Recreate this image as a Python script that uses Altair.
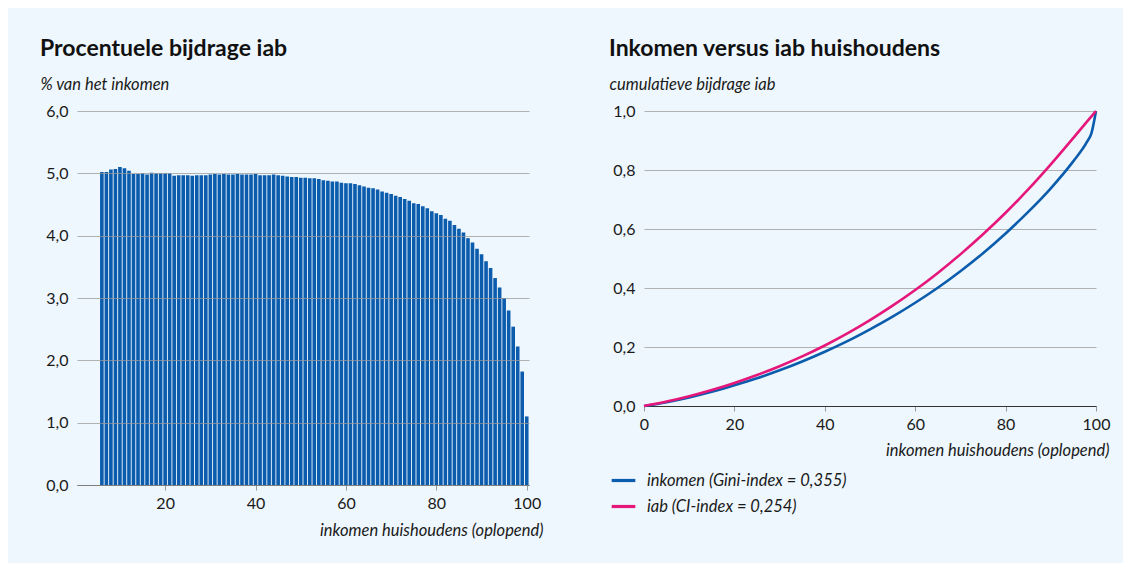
import altair as alt
import pandas as pd

# ---------------- data ----------------
percentiel = list(range(6, 101))
bijdrage = [
    5.02, 5.02, 5.06, 5.07, 5.10, 5.08, 5.04, 4.99, 4.99, 5.00,   # 6-15
    4.98, 5.01, 5.00, 5.00, 5.00, 5.00, 4.96, 4.97, 4.97, 4.97,   # 16-25
    4.96, 4.97, 4.97, 4.97, 4.98, 4.99, 4.98, 4.99, 4.98, 4.98,   # 26-35
    4.99, 4.98, 4.98, 4.98, 4.99, 4.97, 4.97, 4.97, 4.98, 4.97,   # 36-45
    4.96, 4.95, 4.94, 4.94, 4.93, 4.93, 4.92, 4.92, 4.91, 4.89,   # 46-55
    4.88, 4.87, 4.87, 4.85, 4.84, 4.84, 4.83, 4.81, 4.79, 4.77,   # 56-65
    4.76, 4.74, 4.71, 4.69, 4.67, 4.64, 4.62, 4.59, 4.56, 4.52,   # 66-75
    4.51, 4.47, 4.44, 4.39, 4.36, 4.33, 4.27, 4.24, 4.17, 4.11,   # 76-85
    4.05, 3.96, 3.89, 3.79, 3.70, 3.59, 3.48, 3.32, 3.17, 3.00,   # 86-95
    2.80, 2.54, 2.22, 1.82, 1.10,                                 # 96-100
]

curve_x = [0, 5, 10, 15, 20, 25, 30, 35, 40, 45, 50, 55, 60, 65, 70, 75, 80, 85, 90, 95, 98, 99, 100]
inkomen = [0, 0.013, 0.029, 0.048, 0.070, 0.094, 0.121, 0.151, 0.184, 0.220, 0.260, 0.303,
           0.350, 0.401, 0.457, 0.518, 0.585, 0.658, 0.738, 0.830, 0.895, 0.925, 1.0]
iab = [0, 0.015, 0.033, 0.054, 0.078, 0.105, 0.135, 0.168, 0.205, 0.246, 0.291, 0.340,
       0.393, 0.451, 0.514, 0.582, 0.655, 0.734, 0.819, 0.909, 0.964, 0.982, 1.0]

lbl_inkomen = "inkomen (Gini-index = 0,355)"
lbl_iab = "iab (CI-index = 0,254)"

# ---------------- style ----------------
BG = "#eef7fd"
BLUE = "#0b5cad"
PINK = "#e5177b"
FONT = "Lato"
TXT = "#1a1a1a"
GRID = "#9a9a9a"
LBL = 16
TTL = 16.5

comma_fmt = "replace(format(datum.value, '.1f'), '.', ',')"

df_bar = pd.DataFrame({"p": percentiel, "v": bijdrage})

left = (
    alt.Chart(df_bar)
    .transform_calculate(x0="datum.p - 0.4", x1="datum.p + 0.4")
    .mark_bar(color=BLUE)
    .encode(
        x=alt.X(
            "x0:Q",
            scale=alt.Scale(domain=[0.5, 100.5], nice=False, zero=False),
            axis=alt.Axis(
                values=[20, 40, 60, 80, 100], grid=False, labelFlush=False,
                domainColor="#333333", domainWidth=1.2,
                tickColor=GRID, tickSize=5, labelPadding=5,
                labelFont=FONT, labelFontSize=LBL, labelColor=TXT,
                title="inkomen huishoudens (oplopend)",
                titleFont=FONT, titleFontSize=TTL, titleFontStyle="italic",
                titleFontWeight="normal", titleColor=TXT,
                titleAngle=0, titleAlign="right", titleBaseline="alphabetic",
                titleX=466, titleY=50,
            ),
        ),
        x2="x1:Q",
        y=alt.Y(
            "v:Q",
            scale=alt.Scale(domain=[0, 6], nice=False),
            axis=alt.Axis(
                values=[0, 1, 2, 3, 4, 5, 6], labelExpr=comma_fmt,
                domain=False, ticks=False, labelPadding=9,
                grid=True, gridColor=GRID, gridOpacity=0.75, gridWidth=1,
                zindex=1,
                labelFont=FONT, labelFontSize=LBL, labelColor=TXT,
                title="% van het inkomen",
                titleFont=FONT, titleFontSize=TTL, titleFontStyle="italic",
                titleFontWeight="normal", titleColor=TXT,
                titleAngle=0, titleAlign="left", titleBaseline="alphabetic",
                titleX=-37, titleY=-22,
            ),
        ),
        y2=alt.datum(0),
    )
    .properties(
        width=452, height=374,
        title=alt.TitleParams(
            "Procentuele bijdrage iab", anchor="start", frame="group",
            dx=-37, offset=15, font=FONT, fontSize=23, fontWeight="bold", color="#111111",
        ),
    )
)

df_curve = pd.concat([
    pd.DataFrame({"x": curve_x, "y": inkomen, "reeks": lbl_inkomen}),
    pd.DataFrame({"x": curve_x, "y": iab, "reeks": lbl_iab}),
])

right = (
    alt.Chart(df_curve)
    .mark_line(strokeWidth=2.6, interpolate="monotone")
    .encode(
        x=alt.X(
            "x:Q",
            scale=alt.Scale(domain=[0, 100], nice=False),
            axis=alt.Axis(
                values=[0, 20, 40, 60, 80, 100], grid=False, labelFlush=False,
                domainColor="#333333", domainWidth=1.2,
                tickColor=GRID, tickSize=5, labelPadding=5,
                labelFont=FONT, labelFontSize=LBL, labelColor=TXT,
                title="inkomen huishoudens (oplopend)",
                titleFont=FONT, titleFontSize=TTL, titleFontStyle="italic",
                titleFontWeight="normal", titleColor=TXT,
                titleAngle=0, titleAlign="right", titleBaseline="alphabetic",
                titleX=465, titleY=49,
            ),
        ),
        y=alt.Y(
            "y:Q",
            scale=alt.Scale(domain=[0, 1], nice=False),
            axis=alt.Axis(
                values=[0, 0.2, 0.4, 0.6, 0.8, 1.0], labelExpr=comma_fmt,
                domain=False, ticks=False, labelPadding=9,
                grid=True, gridColor=GRID, gridOpacity=0.75, gridWidth=1,
                labelFont=FONT, labelFontSize=LBL, labelColor=TXT,
                title="cumulatieve bijdrage iab",
                titleFont=FONT, titleFontSize=TTL, titleFontStyle="italic",
                titleFontWeight="normal", titleColor=TXT,
                titleAngle=0, titleAlign="left", titleBaseline="alphabetic",
                titleX=-35, titleY=-22,
            ),
        ),
        color=alt.Color(
            "reeks:N",
            scale=alt.Scale(domain=[lbl_inkomen, lbl_iab], range=[BLUE, PINK]),
            legend=alt.Legend(
                orient="none", legendX=-34, legendY=356, title=None,
                symbolType="stroke", symbolSize=560, symbolStrokeWidth=3.2,
                labelFont=FONT, labelFontSize=TTL, labelFontStyle="italic",
                labelColor=TXT, labelOffset=10, rowPadding=4, labelLimit=400,
            ),
        ),
    )
    .properties(
        width=452, height=295,
        title=alt.TitleParams(
            "Inkomen versus iab huishoudens", anchor="start", frame="group",
            dx=-35, offset=15, font=FONT, fontSize=23, fontWeight="bold", color="#111111",
        ),
    )
)

chart = (
    alt.hconcat(left, right, spacing=66)
    .resolve_legend(color="independent")
    .resolve_scale(color="independent")
    .properties(
        background=BG,
        padding={"left": 32, "top": 30, "right": 13, "bottom": 24},
    )
    .configure_view(stroke=None)
)

chart.save("out.html", embed_options={"renderer": "svg", "actions": False})
